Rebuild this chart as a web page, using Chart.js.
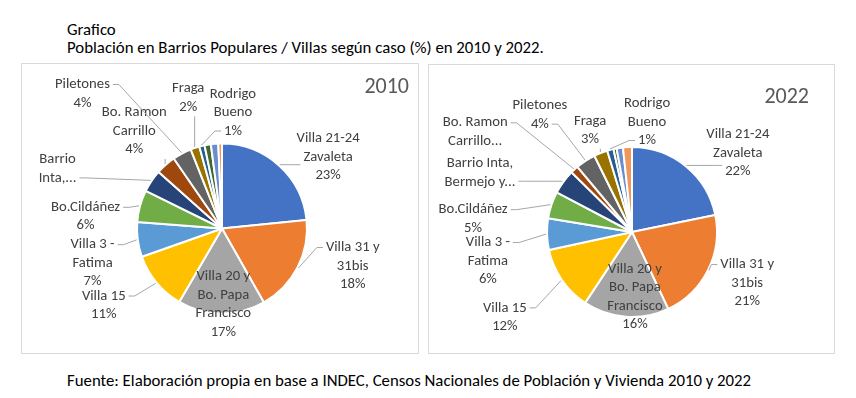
<!DOCTYPE html>
<html>
<head>
<meta charset="utf-8">
<script src="https://cdn.jsdelivr.net/npm/chart.js@4.4.0/dist/chart.umd.min.js"></script>
<style>
html, body { margin:0; padding:0; background:#fff; }
body { width:856px; height:398px; position:relative; overflow:hidden; font-family: Carlito, Calibri, Lato, sans-serif; color:#000; }
.txt { position:absolute; left:67px; font-size:16.8px; line-height:20px; white-space:nowrap; }
.box { position:absolute; border:1px solid #d9d9d9; box-sizing:border-box; }
.box canvas { position:absolute; left:0; top:0; }
</style>
</head>
<body>
<div class="txt" style="top:20px">Grafico</div>
<div class="txt" style="top:38px">Población en Barrios Populares / Villas según caso (%) en 2010 y 2022.</div>
<div class="box" style="left:21px;top:63px;width:398px;height:291px"><canvas id="c2010" width="396" height="289"></canvas></div>
<div class="box" style="left:428px;top:64px;width:407px;height:290px"><canvas id="c2022" width="405" height="288"></canvas></div>
<div class="txt" style="top:371px">Fuente: Elaboración propia en base a INDEC, Censos Nacionales de Población y Vivienda 2010 y 2022</div>

<script>
// datos (% de población por barrio)
const categorias = ['Villa 21-24 Zavaleta', 'Villa 31 y 31bis', 'Villa 20 y Bo. Papa Francisco', 'Villa 15',
  'Villa 3 - Fatima', 'Bo.Cildáñez', 'Barrio Inta, Bermejo y ...', 'Bo. Ramon Carrillo', 'Piletones',
  'Fraga', 'Rodrigo Bueno', 'Otro barrio A', 'Otro barrio B', 'Otro barrio C'];
const valores2010 = [23.4, 18.4, 16.6, 11.2, 6.6, 6.1, 4.3, 3.8, 3.6, 1.7, 1.0, 1.2, 1.4, 0.7];
const valores2022 = [21.8, 21.2, 16.3, 12.3, 6.0, 5.1, 4.7, 1.5, 3.8, 2.6, 1.2, 0.6, 1.2, 1.7];
// etiquetas tal como aparecen (las que terminan en ... van sin porcentaje)
const etiquetas2010 = ['Villa 21-24\nZavaleta', 'Villa 31 y\n31bis', 'Villa 20 y\nBo. Papa\nFrancisco', 'Villa 15',
  'Villa 3 -\nFatima', 'Bo.Cildáñez', 'Barrio\nInta,...', 'Bo. Ramon\nCarrillo', 'Piletones', 'Fraga',
  'Rodrigo\nBueno', '', '', ''];
const etiquetas2022 = ['Villa 21-24\nZavaleta', 'Villa 31 y\n31bis', 'Villa 20 y\nBo. Papa\nFrancisco', 'Villa 15',
  'Villa 3 -\nFatima', 'Bo.Cildáñez', 'Barrio Inta,\nBermejo y...', 'Bo. Ramon\nCarrillo...', 'Piletones', 'Fraga',
  'Rodrigo\nBueno', '', '', ''];

const colores = ['#4472C4','#ED7D31','#A5A5A5','#FFC000','#5B9BD5','#70AD47','#264478','#9E480E',
  '#636363','#997300','#255E91','#43682B','#698ED0','#F1975A'];
const FUENTE = 'Carlito, Calibri, Lato, sans-serif';

// ubicacion de etiquetas: [angulo desde las 12 en grados, distancia al centro en px, linea donde llega la guia]
const pos2010 = [[56,128],[106,136,0],[179,76],[237,141],[255,134],[275,137],[290,175],[318,131],[314,194,0],[345.5,135],[5.4,116.5]];
const pos2022 = [[53.3,132],[113.9,126,0],[177.4,65],[236.2,153],[258.6,147],[274.7,159.5],[291.2,163],[302.5,186,0],[321.8,149],[337.6,110],[7.8,111]];

const etiquetasPlugin = {
  id: 'etiquetas',
  afterDatasetsDraw(chart, args, opts) {
    const ctx = chart.ctx;
    const meta = chart.getDatasetMeta(0);
    const vals = chart.data.datasets[0].data;
    const total = vals.reduce((a,b)=>a+b, 0);
    const cx = meta.data[0].x, cy = meta.data[0].y, R = meta.data[0].outerRadius;
    const lh = 18.5;
    ctx.save();
    ctx.font = '14.7px ' + FUENTE;
    ctx.textAlign = 'center';
    ctx.textBaseline = 'middle';
    opts.textos.forEach((txt, i)=>{
      const pos = opts.posiciones[i];
      if(!txt || !pos) return;
      const lines = txt.split('\n');
      if(!txt.endsWith('...')) lines.push(Math.round(vals[i]/total*100) + '%');
      const a = (pos[0]-90)*Math.PI/180;
      const tx = cx + Math.cos(a)*pos[1], ty = cy + Math.sin(a)*pos[1];
      const top = ty - lines.length*lh/2, bottom = top + lines.length*lh;
      const widths = lines.map(l=>ctx.measureText(l).width);
      const wMax = Math.max(...widths);
      if(pos[1] > R + 10){
        const el = meta.data[i];
        const mid = (el.startAngle + el.endAngle)/2;
        const ex = cx + Math.cos(mid)*(R+1), ey = cy + Math.sin(mid)*(R+1);
        ctx.strokeStyle = '#a6a6a6';
        ctx.lineWidth = 1;
        ctx.beginPath();
        ctx.moveTo(ex, ey);
        if(ex < tx - wMax/2 || ex > tx + wMax/2){
          let py = Math.min(Math.max(ey, top + lh/2), bottom - lh/2);
          if(pos[2] !== undefined) py = top + lh*(pos[2]+0.5);
          const k = Math.min(lines.length-1, Math.max(0, Math.floor((py-top)/lh)));
          const side = ex > tx ? 1 : -1;
          const px = tx + side*(widths[k]/2 + 3);
          ctx.lineTo(px + side*6, py);
          ctx.lineTo(px, py);
        } else {
          ctx.lineTo(ex, ey > ty ? bottom : top);
        }
        ctx.stroke();
      }
      ctx.fillStyle = '#404040';
      lines.forEach((l,k)=> ctx.fillText(l, tx, top + lh*(k+0.5)));
    });
    // año
    ctx.font = '22px ' + FUENTE;
    ctx.fillStyle = '#595959';
    ctx.textAlign = 'right';
    ctx.textBaseline = 'top';
    ctx.fillText(opts.anio, opts.anioPos[0], opts.anioPos[1]);
    ctx.restore();
  }
};

function pieChart(id, valores, textos, posiciones, anio, anioPos, padding){
  return new Chart(document.getElementById(id), {
    type: 'pie',
    data: {
      labels: categorias,
      datasets: [{ data: valores, backgroundColor: colores, borderColor: '#fff', borderWidth: 2, hoverOffset: 0 }]
    },
    options: {
      responsive: false,
      animation: false,
      devicePixelRatio: 1,
      radius: 85,
      layout: { padding },
      plugins: {
        legend: { display: false },
        tooltip: { enabled: false },
        etiquetas: { textos, posiciones, anio, anioPos }
      }
    },
    plugins: [etiquetasPlugin]
  });
}

pieChart('c2010', valores2010, etiquetas2010, pos2010, '2010', [387, 12], { left:110, right:106, top:74.5, bottom:34.5 });
pieChart('c2022', valores2022, etiquetas2022, pos2022, '2022', [380, 21], { left:113, right:112, top:77, bottom:31 });
</script>
</body>
</html>
